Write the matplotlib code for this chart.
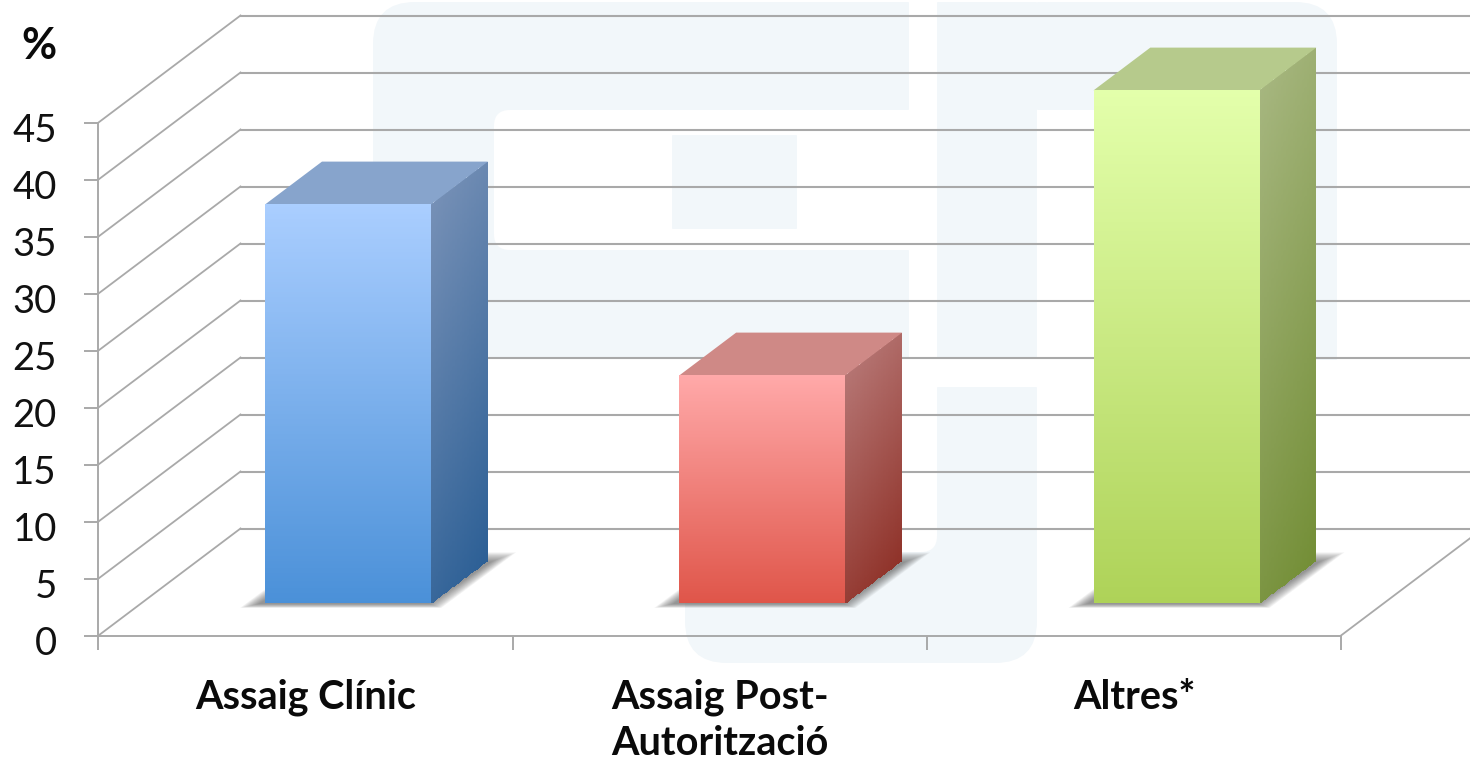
import numpy as np
import matplotlib
matplotlib.use("Agg")
import matplotlib.pyplot as plt
from matplotlib.path import Path
from matplotlib.patches import PathPatch, Polygon
from matplotlib.transforms import ScaledTranslation

# Datos del grafico
categories = ["Assaig Clínic", "Assaig Post-\nAutorització", "Altres*"]
values = [35, 20, 45]
y_ticks = [0, 5, 10, 15, 20, 25, 30, 35, 40, 45]

# Colores: frente (arriba, abajo), lateral (arriba, abajo), tapa
front_colors = [("#aaceff", "#4a90d8"), ("#ffa9a9", "#df5549"), ("#e3ffab", "#aed258")]
side_colors = [("#7690b6", "#2c5f95"), ("#b57573", "#8f3229"), ("#a6b67f", "#738e36")]
top_colors = ["#87a4cc", "#cf8986", "#b6ca8c"]
LOGO = "#f2f7fa"
GRID = "#a9a9a9"

W, H = 1470, 764
# caja frontal del eje en pixeles
X0, X1 = 98.5, 1341
Y0, Y45 = 635.5, 122.5
px_x = 3 / (X1 - X0)      # unidades de categoria por pixel
px_y = 45 / (Y0 - Y45)    # unidades de valor por pixel
DX, DY = 142 * px_x, 107 * px_y   # profundidad del grafico
BAR_W = 166 * px_x
D_FRONT, D_BACK = 0.30, 0.70


def rounded_poly(points, radii):
    # poligono cerrado con esquinas redondeadas
    verts, codes = [], []
    n = len(points)
    for i in range(n):
        p = np.array(points[i], float)
        a = np.array(points[i - 1], float)
        b = np.array(points[(i + 1) % n], float)
        r = radii[i]
        p1 = p + (a - p) / np.linalg.norm(a - p) * r
        p2 = p + (b - p) / np.linalg.norm(b - p) * r
        verts += [p1, p, p2]
        codes += [Path.MOVETO if i == 0 else Path.LINETO, Path.CURVE3, Path.CURVE3]
    verts.append(verts[0])
    codes.append(Path.CLOSEPOLY)
    return Path(verts, codes)


def mix(c0, c1, t):
    a = np.array(matplotlib.colors.to_rgb(c0))
    b = np.array(matplotlib.colors.to_rgb(c1))
    return a + (b - a) * t[..., None]


def draw_face(ax, p00, p10, p01, p11, c_top, c_bottom, skew=0.0):
    # p00 arriba-izq, p10 arriba-der, p01 abajo-izq, p11 abajo-der
    u = np.linspace(0, 1, 25)
    v = np.linspace(0, 1, 161)
    uu, vv = np.meshgrid(u, v)
    p = [np.array(q, float) for q in (p00, p10, p01, p11)]
    xs = (1 - uu) * (1 - vv) * p[0][0] + uu * (1 - vv) * p[1][0] + (1 - uu) * vv * p[2][0] + uu * vv * p[3][0]
    ys = (1 - uu) * (1 - vv) * p[0][1] + uu * (1 - vv) * p[1][1] + (1 - uu) * vv * p[2][1] + uu * vv * p[3][1]
    uc = (u[:-1] + u[1:]) / 2
    vc = (v[:-1] + v[1:]) / 2
    um, vm = np.meshgrid(uc, vc)
    t = np.clip((vm + skew * um) / (1 + skew), 0, 1)
    ax.pcolormesh(xs, ys, mix(c_top, c_bottom, t), shading="flat", clip_on=False,
                  zorder=4, antialiased=False, linewidth=0, edgecolor="none")


fig = plt.figure(figsize=(W / 100, H / 100), dpi=100)
plt.rcParams["font.family"] = ["Lato", "DejaVu Sans"]

# Logo de fondo, en coordenadas de pixel
bg = fig.add_axes([0, 0, 1, 1], zorder=0)
bg.set_xlim(0, W)
bg.set_ylim(H, 0)
bg.axis("off")
logo_shapes = [
    ([(373, 2), (909, 2), (909, 110), (494, 110), (494, 250), (909, 250), (909, 358), (373, 358)],
     [42, 1, 1, 16, 16, 1, 1, 1]),
    ([(937, 2), (1037, 2), (1037, 358), (937, 358)], [1, 1, 1, 1]),
    ([(1037, 2), (1337, 2), (1337, 360), (1225, 360), (1225, 110), (1037, 110)], [1, 42, 1, 1, 1, 1]),
    ([(937, 387), (1037, 387), (1037, 663), (685, 663), (685, 552), (937, 552)], [1, 1, 42, 42, 1, 16]),
    ([(672, 135), (797, 135), (797, 229), (672, 229)], [1, 1, 1, 1]),
]
for pts, rad in logo_shapes:
    bg.add_patch(PathPatch(rounded_poly(pts, rad), facecolor=LOGO, edgecolor="none"))

# Eje principal
ax = fig.add_axes([X0 / W, 1 - Y0 / H, (X1 - X0) / W, (Y0 - Y45) / H], zorder=1)
ax.patch.set_alpha(0)
ax.set_xlim(0, 3)
ax.set_ylim(0, 45)
for s in ["top", "right"]:
    ax.spines[s].set_visible(False)
for s in ["left", "bottom"]:
    ax.spines[s].set_color(GRID)
    ax.spines[s].set_linewidth(1.4)

ax.set_yticks(y_ticks)
ax.set_yticklabels([str(v) for v in y_ticks], fontsize=27.5, color="#111111")
ax.tick_params(axis="y", length=10, width=1.4, color=GRID, pad=20)
down = ScaledTranslation(0, -5 / 72 * 0.72, fig.dpi_scale_trans)
for lbl in ax.get_yticklabels():
    lbl.set_transform(lbl.get_transform() + down)
ax.set_xticks([0, 1, 2, 3])
ax.set_xticklabels([])
ax.set_xticks([0.5, 1.5, 2.5], minor=True)
ax.set_xticklabels(categories, minor=True, fontsize=28.5, fontweight="bold", color="#0a0a0a",
                   linespacing=1.3, ha="center")
ax.tick_params(axis="x", which="major", length=10, width=1.4, color=GRID)
ax.tick_params(axis="x", which="minor", length=0, pad=31)

# Rejilla en perspectiva
for v in y_ticks:
    ax.plot([0, DX], [v, v + DY], color=GRID, lw=1.3, clip_on=False, zorder=1)
    if v > 0:
        ax.plot([DX, 3 + DX], [v + DY, v + DY], color=GRID, lw=1.5, clip_on=False, zorder=1)
ax.plot([DX, 3 + DX], [DY, DY], color=GRID, lw=1.5, clip_on=False, zorder=1)
ax.plot([3, 3 + DX], [0, DY], color=GRID, lw=1.3, clip_on=False, zorder=1)

# Barras 3D
for i, val in enumerate(values):
    cx = i + 0.5
    x0 = cx - BAR_W / 2 + D_FRONT * DX
    x1 = x0 + BAR_W
    base = D_FRONT * DY
    top = base + val
    sx = (D_BACK - D_FRONT) * DX
    sy = (D_BACK - D_FRONT) * DY

    # sombra difusa sobre el suelo
    n_layers = 12
    for k in range(n_layers):
        g = k * 1.2  # inset en pixeles
        fl = x0 - (25 - g * 1.4) * px_x
        fr = x1 + (10 - g * 0.9) * px_x
        low = base - (4.5 - g * 0.3) * px_y
        hi = base + (51 - g * 0.7) * px_y
        shift = (55 - g * 0.7) * 1.36 * px_x
        ax.add_patch(Polygon([(fl, low), (fr, low), (fr + shift, hi), (fl + shift, hi)],
                             closed=True, facecolor="#4a4a4a", edgecolor="none", alpha=0.065,
                             clip_on=False, zorder=3))

    draw_face(ax, (x1, top), (x1 + sx, top + sy), (x1, base), (x1 + sx, base + sy),
              side_colors[i][0], side_colors[i][1], skew=0.2)
    ax.add_patch(Polygon([(x0, top), (x1, top), (x1 + sx, top + sy), (x0 + sx, top + sy)],
                         closed=True, facecolor=top_colors[i], edgecolor="none", clip_on=False, zorder=4))
    draw_face(ax, (x0, top), (x1, top), (x0, base), (x1, base),
              front_colors[i][0], front_colors[i][1])

fig.text(39 / W, 1 - 46 / H, "%", fontsize=31, fontweight="bold", ha="center", va="center", color="#0a0a0a")

fig.savefig("out.png", dpi=100, facecolor="white")
